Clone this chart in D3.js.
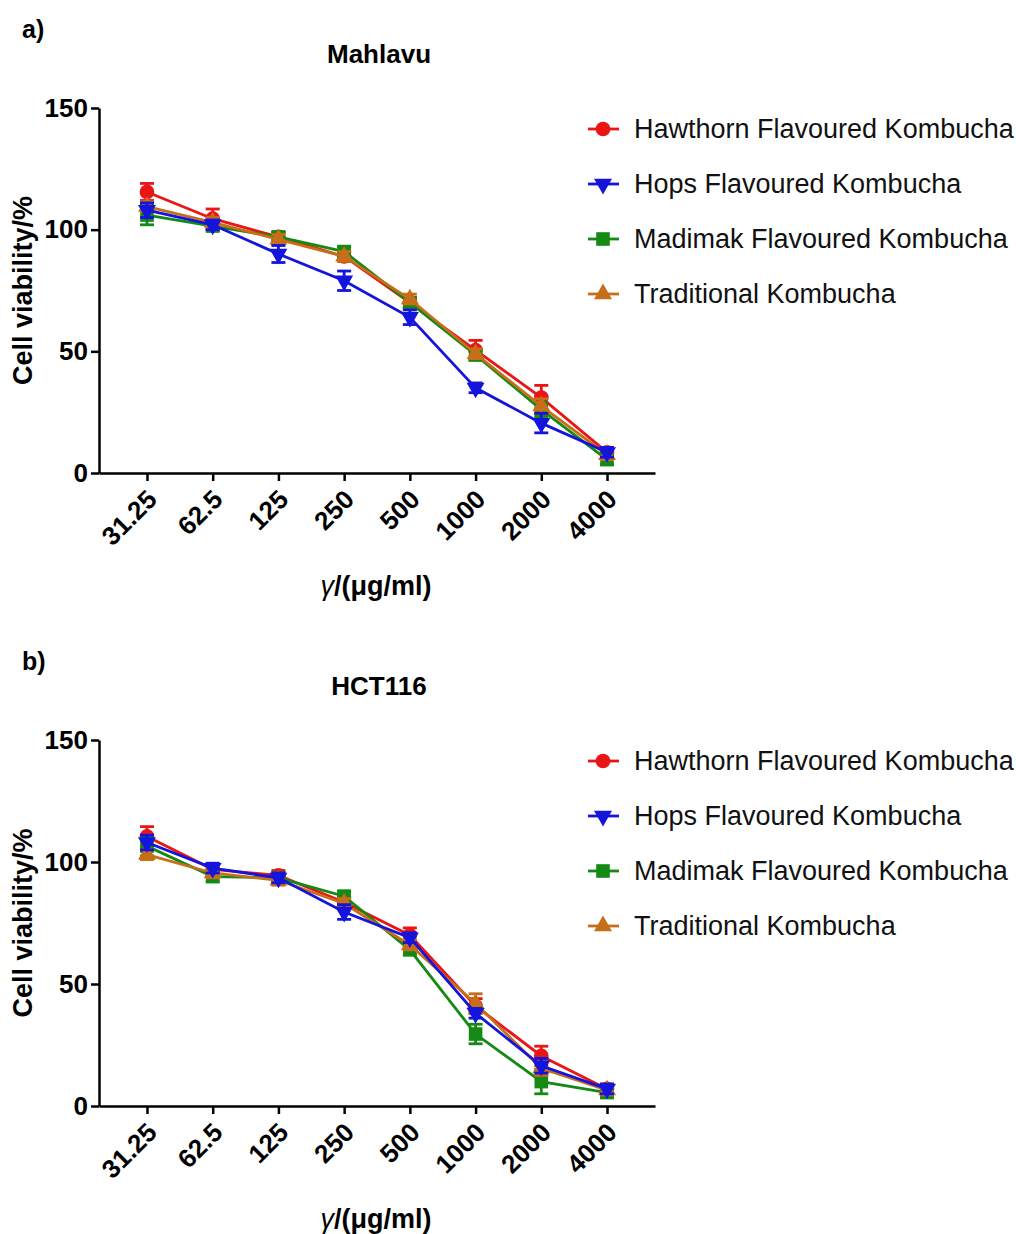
<!DOCTYPE html>
<html>
<head>
<meta charset="utf-8">
<script src="https://cdn.jsdelivr.net/npm/d3@7"></script>
<style>
  body { margin: 0; background: #fff; }
  text { font-family: Arial, "Liberation Sans", sans-serif; }
</style>
</head>
<body>
<script>
// concentrations on x axis (categorical, log spaced)
var doses = ["31.25", "62.5", "125", "250", "500", "1000", "2000", "4000"]
var yTicks = [0, 50, 100, 150]

var seriesNames = ["Hawthorn Flavoured Kombucha", "Hops Flavoured Kombucha", "Madimak Flavoured Kombucha", "Traditional Kombucha"]

// panel a - Mahlavu (mean, error)
var mahHawthorn = [115.5, 104.5, 97, 89, 70, 50.5, 31, 8.5]
var mahHawthornErr = [3.5, 4, 2, 2, 2, 4, 5, 2]
var mahHops = [108, 102, 90, 79, 64, 35, 20.5, 8.5]
var mahHopsErr = [3, 2, 3.5, 4, 3, 2, 4, 2]
var mahMadimak = [106, 101.5, 97, 91, 70, 48.5, 26, 5.5]
var mahMadimakErr = [4, 2, 2, 2, 2, 2, 3, 2]
var mahTraditional = [109.5, 103, 96, 89, 71.5, 49, 27.5, 7.5]
var mahTraditionalErr = [2, 2, 2, 2, 2, 2, 3, 2]

// panel b - HCT116
var hctHawthorn = [110.5, 97, 94.5, 83.5, 70, 41, 20.5, 7]
var hctHawthornErr = [4, 2, 2, 2, 3, 3, 4, 2]
var hctHops = [108, 97.5, 93.5, 79.5, 69, 38, 16.5, 7]
var hctHopsErr = [3, 2, 2, 3, 2, 2, 3, 2]
var hctMadimak = [106.5, 94, 93.5, 86, 64, 29.5, 10, 5.5]
var hctMadimakErr = [4, 2, 2, 2, 2, 4, 5, 2]
var hctTraditional = [103, 95.5, 92.5, 83, 66, 42, 15.5, 6.5]
var hctTraditionalErr = [2, 2, 2, 2, 2, 4, 3, 2]

var colors = ["#ea1515", "#1414dc", "#148a14", "#c66f18"]
var shapes = ["circle", "down", "square", "up"]

var svg = d3.select("body")
    .append("svg")
    .attr("width", 1016)
    .attr("height", 1234)

var fontBold = "bold"

var makeSymbol = function(shape)
{
    if (shape == "circle") return d3.symbol().type(d3.symbolCircle).size(170)()
    if (shape == "square") return d3.symbol().type(d3.symbolSquare).size(185)()
    return d3.symbol().type(d3.symbolTriangle).size(140)()
}

var drawPanel = function(opts)
{
    var top = opts.top        // y pixel of 150
    var bottom = opts.bottom  // y pixel of 0

    var xScale = d3.scalePoint()
        .domain(doses)
        .range([99, 655])
        .padding(0.73)

    var yScale = d3.scaleLinear()
        .domain([0, 150])
        .range([bottom, top])

    var g = svg.append("g")

    // panel letter + title
    g.append("text")
        .attr("x", 22).attr("y", opts.labelY)
        .attr("font-size", 25).attr("font-weight", fontBold)
        .text(opts.letter)

    g.append("text")
        .attr("x", 379).attr("y", opts.titleY)
        .attr("text-anchor", "middle")
        .attr("font-size", 26).attr("font-weight", fontBold)
        .text(opts.title)

    // y axis
    var yAxis = g.append("g")
        .attr("transform", "translate(99,0)")
        .call(d3.axisLeft(yScale).tickValues(yTicks).tickSize(8).tickSizeOuter(0).tickPadding(3))
    yAxis.selectAll("path, line").attr("stroke", "#000").attr("stroke-width", 2.5)
    yAxis.selectAll("text")
        .attr("font-size", 26).attr("font-weight", fontBold).attr("fill", "#000")
        .attr("font-family", "Arial, 'Liberation Sans', sans-serif")

    // x axis
    var xAxis = g.append("g")
        .attr("transform", "translate(0," + bottom + ")")
        .call(d3.axisBottom(xScale).tickSize(8).tickSizeOuter(0))
    xAxis.selectAll("path, line").attr("stroke", "#000").attr("stroke-width", 2.5)
    xAxis.selectAll("text")
        .attr("font-size", 26).attr("font-weight", fontBold).attr("fill", "#000")
        .attr("font-family", "Arial, 'Liberation Sans', sans-serif")
        .attr("text-anchor", "end")
        .attr("y", 0).attr("dy", 0)
        .attr("transform", "translate(11,28) rotate(-45)")

    // axis titles
    g.append("text")
        .attr("transform", "translate(32," + ((top + bottom) / 2) + ") rotate(-90)")
        .attr("text-anchor", "middle")
        .attr("font-size", 27).attr("font-weight", fontBold)
        .text("Cell viability/%")

    var xt = g.append("text")
        .attr("x", 376).attr("y", bottom + 122)
        .attr("text-anchor", "middle")
        .attr("font-size", 27).attr("font-weight", fontBold)
    xt.append("tspan").attr("font-style", "italic").attr("font-weight", "normal").text("γ")
    xt.append("tspan").text("/(μg/ml)")

    // draw order: hops ends up on top, like the original
    var order = [0, 2, 3, 1]
    order.forEach(function(i)
    {
        var vals = opts.values[i]
        var errs = opts.errors[i]
        var pts = doses.map(function(d, j) { return {dose: d, v: vals[j], e: errs[j]} })
        var sg = g.append("g")

        var line = d3.line()
            .x(function(d) { return xScale(d.dose) })
            .y(function(d) { return yScale(d.v) })

        sg.append("path")
            .datum(pts)
            .attr("d", line)
            .attr("fill", "none")
            .attr("stroke", colors[i])
            .attr("stroke-width", 2.8)

        // error bars
        var eb = sg.selectAll("g.err").data(pts).enter().append("g")
        eb.append("line")
            .attr("x1", function(d) { return xScale(d.dose) })
            .attr("x2", function(d) { return xScale(d.dose) })
            .attr("y1", function(d) { return yScale(d.v + d.e) })
            .attr("y2", function(d) { return yScale(d.v - d.e) })
            .attr("stroke", colors[i]).attr("stroke-width", 2.8)
        eb.append("line")
            .attr("x1", function(d) { return xScale(d.dose) - 7 })
            .attr("x2", function(d) { return xScale(d.dose) + 7 })
            .attr("y1", function(d) { return yScale(d.v + d.e) })
            .attr("y2", function(d) { return yScale(d.v + d.e) })
            .attr("stroke", colors[i]).attr("stroke-width", 2.8)
        eb.append("line")
            .attr("x1", function(d) { return xScale(d.dose) - 7 })
            .attr("x2", function(d) { return xScale(d.dose) + 7 })
            .attr("y1", function(d) { return yScale(d.v - d.e) })
            .attr("y2", function(d) { return yScale(d.v - d.e) })
            .attr("stroke", colors[i]).attr("stroke-width", 2.8)

        sg.selectAll("path.mark").data(pts).enter().append("path")
            .attr("class", "mark")
            .attr("d", makeSymbol(shapes[i]))
            .attr("fill", colors[i])
            .attr("transform", function(d)
            {
                var t = "translate(" + xScale(d.dose) + "," + yScale(d.v) + ")"
                if (shapes[i] == "down") t += " rotate(180)"
                return t
            })
    })

    // legend
    var leg = g.append("g")
    seriesNames.forEach(function(name, i)
    {
        var ly = opts.legendY + i * 55
        leg.append("line")
            .attr("x1", 588).attr("x2", 619)
            .attr("y1", ly).attr("y2", ly)
            .attr("stroke", colors[i]).attr("stroke-width", 2.8)
        leg.append("path")
            .attr("d", makeSymbol(shapes[i]))
            .attr("fill", colors[i])
            .attr("transform", "translate(603," + ly + ")" + (shapes[i] == "down" ? " rotate(180)" : ""))
        leg.append("text")
            .attr("x", 634).attr("y", ly)
            .attr("dy", "0.35em")
            .attr("font-size", 27)
            .attr("fill", "#111")
            .text(name)
    })
}

drawPanel({
    letter: "a)", labelY: 38, title: "Mahlavu", titleY: 63,
    top: 108, bottom: 473, legendY: 129,
    values: [mahHawthorn, mahHops, mahMadimak, mahTraditional],
    errors: [mahHawthornErr, mahHopsErr, mahMadimakErr, mahTraditionalErr]
})

drawPanel({
    letter: "b)", labelY: 670, title: "HCT116", titleY: 695,
    top: 740, bottom: 1106, legendY: 761,
    values: [hctHawthorn, hctHops, hctMadimak, hctTraditional],
    errors: [hctHawthornErr, hctHopsErr, hctMadimakErr, hctTraditionalErr]
})
</script>
</body>
</html>
